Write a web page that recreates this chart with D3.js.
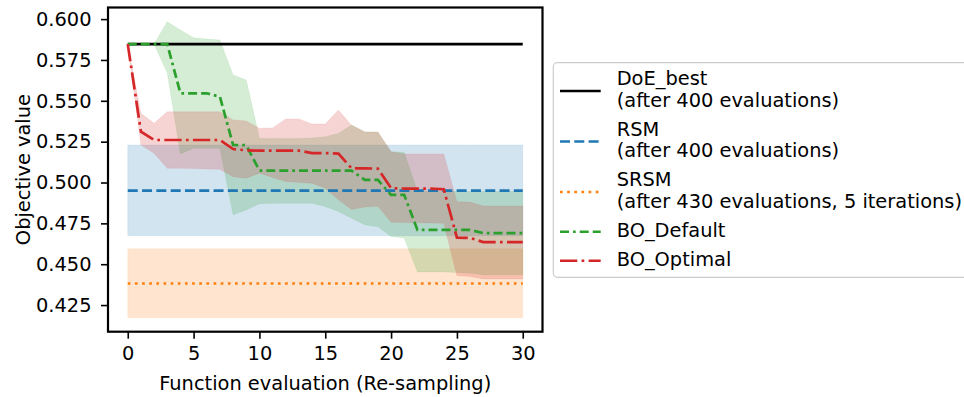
<!DOCTYPE html>
<html>
<head>
<meta charset="utf-8">
<script src="https://cdn.jsdelivr.net/npm/d3@7"></script>
<style>
  html, body { margin: 0; padding: 0; background: #ffffff; }
  svg { display: block; }
  text { font-family: "DejaVu Sans", sans-serif; fill: #000; }
</style>
</head>
<body>
<svg id="chart" width="964" height="397"></svg>
<script>
// ---------------- data ----------------
const evals = d3.range(0, 31);
const xTicks = [0, 5, 10, 15, 20, 25, 30];
const yTicks = [0.425, 0.450, 0.475, 0.500, 0.525, 0.550, 0.575, 0.600];

const doeBest = 0.5847;
const rsmMean = 0.4950, rsmUpper = 0.5230, rsmLower = 0.4674;
const srsmMean = 0.4382, srsmUpper = 0.4594, srsmLower = 0.4172;

const boDefaultMean = [0.5847,0.5847,0.5847,0.5847,0.5546,0.5546,0.5546,0.5525,0.5230,0.5228,
  0.5073,0.5073,0.5073,0.5073,0.5073,0.5073,0.5073,0.5073,0.5016,0.5016,
  0.4924,0.4924,0.4710,0.4710,0.4710,0.4710,0.4710,0.4690,0.4690,0.4690,0.4690];
const boDefaultUpper = [0.5847,0.5847,0.5847,0.5984,0.5933,0.5886,0.5878,0.5872,0.5658,0.5627,
  0.5270,0.5270,0.5270,0.5270,0.5272,0.5280,0.5300,0.5352,0.5310,0.5308,
  0.5189,0.5185,0.4945,0.4945,0.4945,0.4945,0.4945,0.4945,0.4945,0.4945,0.4945];
const boDefaultLower = [0.5847,0.5847,0.5847,0.5670,0.5175,0.5210,0.5210,0.5210,0.4802,0.4832,
  0.4870,0.4873,0.4873,0.4873,0.4873,0.4853,0.4822,0.4782,0.4741,0.4730,
  0.4669,0.4660,0.4453,0.4453,0.4453,0.4450,0.4445,0.4435,0.4435,0.4435,0.4435];

const boOptimalMean = [0.5847,0.5311,0.5260,0.5260,0.5260,0.5260,0.5260,0.5260,0.5205,0.5197,
  0.5195,0.5195,0.5195,0.5195,0.5180,0.5180,0.5177,0.5087,0.5087,0.5085,
  0.4965,0.4963,0.4963,0.4963,0.4959,0.4663,0.4661,0.4635,0.4635,0.4635,0.4635];
const boOptimalUpper = [0.5847,0.5424,0.5362,0.5433,0.5433,0.5433,0.5433,0.5433,0.5383,0.5376,
  0.5332,0.5334,0.5389,0.5389,0.5358,0.5358,0.5444,0.5350,0.5309,0.5309,
  0.5189,0.5175,0.5175,0.5175,0.5175,0.4883,0.4880,0.4857,0.4857,0.4857,0.4857];
const boOptimalLower = [0.5847,0.5230,0.5179,0.5087,0.5087,0.5085,0.5083,0.5081,0.5036,0.5026,
  0.5057,0.5030,0.5006,0.5000,0.4996,0.4965,0.4894,0.4835,0.4850,0.4855,
  0.4757,0.4755,0.4753,0.4752,0.4751,0.4431,0.4425,0.4410,0.4410,0.4410,0.4410];

const legendLabels = [
  ["DoE_best", "(after 400 evaluations)"],
  ["RSM", "(after 400 evaluations)"],
  ["SRSM", "(after 430 evaluations, 5 iterations)"],
  ["BO_Default"],
  ["BO_Optimal"]
];

// ---------------- setup ----------------
const svg = d3.select("#chart");
const pL = 108, pR = 542.5, pT = 7.5, pB = 331.7;
const x = d3.scaleLinear().domain([-1.5, 31.5]).range([pL, pR]);
const y = d3.scaleLinear().domain([0.4087, 0.6071]).range([pB, pT]);

const C = { blue: "#1f77b4", orange: "#ff7f0e", green: "#2ca02c", red: "#d62728", black: "#000000" };
const LW = 2.7;
const styles = [
  { color: C.black, dash: null },
  { color: C.blue, dash: [10, 4.3] },
  { color: C.orange, dash: [2.7, 4.45] },
  { color: C.green, dash: [9, 4, 9, 4, 2.7, 4], legendOffset: 13 },
  { color: C.red, dash: [17.3, 4.3, 2.7, 4.3] }
];

const plot = svg.append("g");
const area = d3.area().x(d => x(d.x)).y0(d => y(d.lo)).y1(d => y(d.hi));
const line = d3.line().x(d => x(d.x)).y(d => y(d.v));

function bandConst(lo, hi) { return evals.map(e => ({ x: e, lo: lo, hi: hi })); }
function band(lo, hi) { return evals.map((e, i) => ({ x: e, lo: lo[i], hi: hi[i] })); }
function lineConst(v) { return evals.map(e => ({ x: e, v: v })); }
function lineArr(a) { return evals.map((e, i) => ({ x: e, v: a[i] })); }

// fills
[[bandConst(rsmLower, rsmUpper), C.blue],
 [bandConst(srsmLower, srsmUpper), C.orange],
 [band(boDefaultLower, boDefaultUpper), C.green],
 [band(boOptimalLower, boOptimalUpper), C.red]].forEach(([d, c]) => {
  plot.append("path").attr("d", area(d)).attr("fill", c).attr("fill-opacity", 0.2)
    .attr("stroke", c).attr("stroke-opacity", 0.08).attr("stroke-width", 1);
});

// lines
const lines = [lineConst(doeBest), lineConst(rsmMean), lineConst(srsmMean), lineArr(boDefaultMean), lineArr(boOptimalMean)];
lines.forEach((d, i) => {
  const p = plot.append("path").attr("d", line(d)).attr("fill", "none")
    .attr("stroke", styles[i].color).attr("stroke-width", LW);
  if (styles[i].dash) p.attr("stroke-dasharray", styles[i].dash.join(","));
});

// axes
const fs = "19.4px";
const xAxis = d3.axisBottom(x).tickValues(xTicks).tickFormat(d3.format("d")).tickSize(7).tickPadding(6);
const yAxis = d3.axisLeft(y).tickValues(yTicks).tickFormat(d3.format(".3f")).tickSize(7).tickPadding(9.5);
const gx = svg.append("g").attr("transform", `translate(0,${pB})`).call(xAxis);
const gy = svg.append("g").attr("transform", `translate(${pL},0)`).call(yAxis);
[gx, gy].forEach(g => {
  g.select(".domain").remove();
  g.selectAll(".tick line").attr("stroke", "#000").attr("stroke-width", 1.6);
  g.selectAll(".tick text").attr("font-size", fs).attr("font-family", "DejaVu Sans").attr("fill", "#000");
});
gx.selectAll(".tick text").attr("dy", "0.785em");

// frame
svg.append("rect").attr("x", pL).attr("y", pT).attr("width", pR - pL).attr("height", pB - pT)
  .attr("fill", "none").attr("stroke", "#000").attr("stroke-width", 2.2);

// axis labels
svg.append("text").attr("x", (pL + pR) / 2).attr("y", 390).attr("text-anchor", "middle")
  .attr("font-size", fs).text("Function evaluation (Re-sampling)");
svg.append("text").attr("transform", `translate(30,${(pT + pB) / 2}) rotate(-90)`)
  .attr("text-anchor", "middle").attr("font-size", fs).text("Objective value");

// legend
const leg = svg.append("g");
leg.append("rect").attr("x", 553.3).attr("y", 62.7).attr("width", 420).attr("height", 214.6)
  .attr("rx", 4).attr("fill", "#fff").attr("fill-opacity", 0.8).attr("stroke", "#cccccc").attr("stroke-width", 1.2);
let base = 85;
legendLabels.forEach((lab, i) => {
  const first = base;
  lab.forEach((t, j) => {
    leg.append("text").attr("x", 616.7).attr("y", base).attr("font-size", fs).text(t);
    if (j < lab.length - 1) base += 21.5;
  });
  const last = base;
  const hy = ((first - 13) + (last + 3.5)) / 2;
  const h = leg.append("line").attr("x1", 560).attr("x2", 600.7).attr("y1", hy).attr("y2", hy)
    .attr("stroke", styles[i].color).attr("stroke-width", LW);
  if (styles[i].dash) {
    h.attr("stroke-dasharray", styles[i].dash.join(","));
    if (styles[i].legendOffset) h.attr("stroke-dashoffset", styles[i].legendOffset);
  }
  base += 29;
});
</script>
</body>
</html>
